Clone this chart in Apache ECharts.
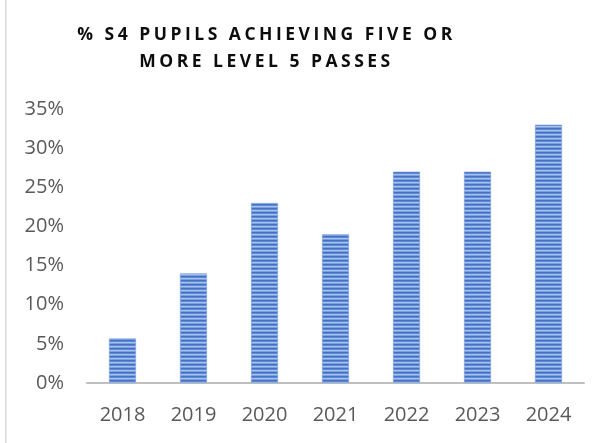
<!DOCTYPE html>
<html>
<head>
<meta charset="utf-8">
<script src="https://cdn.jsdelivr.net/npm/echarts@6/dist/echarts.min.js"></script>
<style>
  html, body { margin: 0; padding: 0; background: #fff; }
  #wrap { position: relative; width: 607px; height: 443px; }
  #chart { width: 607px; height: 443px; }
  #title {
    position: absolute; left: 0; top: 20px; width: 533px;
    text-align: center; font-family: "Open Sans", sans-serif; font-weight: bold;
    font-size: 17.5px; letter-spacing: 3.5px; line-height: 27px; color: #0d0d0d;
  }
</style>
</head>
<body>
<div id="wrap">
  <div id="chart"></div>
  <div id="title">% S4 PUPILS ACHIEVING FIVE OR<br>MORE LEVEL 5 PASSES</div>
</div>
<script>
// data
var years = ['2018', '2019', '2020', '2021', '2022', '2023', '2024'];
var pct = [5.7, 14, 23, 19, 27, 27, 33];

// striped fill like the original
function stripes() {
  var c = document.createElement('canvas');
  c.width = 4; c.height = 4;
  var g = c.getContext('2d');
  var rows = ['#4472c4', '#5e88d4', '#aac3ee', '#7aa0e0'];
  for (var i = 0; i < 4; i++) {
    g.fillStyle = rows[i];
    g.fillRect(0, i, 4, 1);
  }
  return c;
}

var chart = echarts.init(document.getElementById('chart'));
chart.setOption({
  animation: false,
  grid: { left: 87, right: 23, top: 109, bottom: 60 },
  graphic: [{
    type: 'rect', shape: { x: 5, y: 0, width: 1.5, height: 443 },
    style: { fill: '#d9d9d9' }
  }],
  xAxis: {
    type: 'category',
    data: years,
    axisLine: { lineStyle: { color: '#bfbfbf', width: 2 } },
    axisTick: { show: false },
    axisLabel: { color: '#595959', fontSize: 20, fontFamily: 'Open Sans', margin: 22 }
  },
  yAxis: {
    type: 'value',
    min: 0, max: 35, interval: 5,
    axisLine: { show: false },
    axisTick: { show: false },
    splitLine: { show: false },
    axisLabel: {
      color: '#595959', fontSize: 20, fontFamily: 'Open Sans', margin: 23,
      formatter: '{value}%'
    }
  },
  series: [{
    type: 'bar',
    data: pct,
    barWidth: 27,
    itemStyle: {
      color: { image: stripes(), repeat: 'repeat' },
      borderColor: '#7f9fdb', borderWidth: 0.6
    }
  }]
});
</script>
</body>
</html>
